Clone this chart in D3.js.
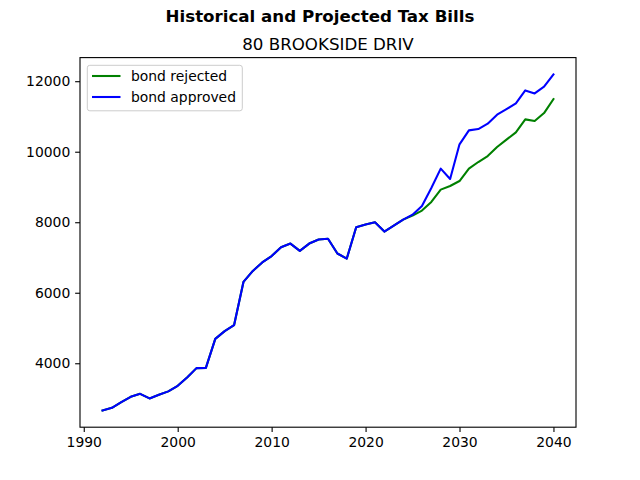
<!DOCTYPE html>
<html>
<head>
<meta charset="utf-8">
<script src="https://cdn.jsdelivr.net/npm/d3@7"></script>
<style>
body { margin: 0; background: #fff; }
svg { display: block; font-family: "DejaVu Sans", sans-serif; }
</style>
</head>
<body>
<svg id="chart" width="640" height="480"></svg>
<script>
const years = d3.range(1992, 2041);
const bondRejected = [
  2663, 2737, 2898, 3048, 3133, 3003, 3105, 3202, 3360, 3598,
  3862, 3870, 4692, 4910, 5080, 6307, 6619, 6860, 7040, 7290,
  7395, 7186, 7395, 7509, 7530, 7112, 6970, 7857, 7934, 7999,
  7735, 7905, 8075, 8189, 8330, 8574, 8925, 9027, 9169, 9520,
  9708, 9878, 10133, 10342, 10549, 10918, 10869, 11096, 11493
];
const bondApproved = [
  2663, 2737, 2898, 3048, 3133, 3003, 3105, 3202, 3360, 3598,
  3862, 3870, 4692, 4910, 5080, 6307, 6619, 6860, 7040, 7290,
  7395, 7186, 7395, 7509, 7530, 7112, 6970, 7857, 7934, 7999,
  7735, 7905, 8075, 8215, 8461, 8971, 9520, 9226, 10209, 10606,
  10643, 10796, 11051, 11209, 11371, 11739, 11654, 11844, 12193
];
const xTicks = [1990, 2000, 2010, 2020, 2030, 2040];
const yTicks = [4000, 6000, 8000, 10000, 12000];
const seriesNames = ["bond rejected", "bond approved"];
const seriesColors = ["green", "blue"];
const suptitle = "Historical and Projected Tax Bills";
const subtitle = "80 BROOKSIDE DRIV";

const svg = d3.select("#chart");
const L = 80, R = 576, T = 57.6, B = 427.2;

function pad(ext) { const r = ext[1] - ext[0]; return [ext[0] - 0.05 * r, ext[1] + 0.05 * r]; }
const x = d3.scaleLinear().domain(pad(d3.extent(years))).range([L, R]);
const allVals = bondRejected.concat(bondApproved);
const y = d3.scaleLinear().domain(pad(d3.extent(allVals))).range([B, T]);

const series = [bondRejected, bondApproved];
const line = d3.line().x(d => x(d[0])).y(d => y(d[1]));
series.forEach((vals, i) => {
  svg.append("path")
    .datum(years.map((yr, j) => [yr, vals[j]]))
    .attr("d", line)
    .attr("fill", "none")
    .attr("stroke", seriesColors[i])
    .attr("stroke-width", 2.08)
    .attr("stroke-linejoin", "round")
    .attr("stroke-linecap", "square");
});

// frame
svg.append("rect").attr("x", L).attr("y", T).attr("width", R - L).attr("height", B - T)
  .attr("fill", "none").attr("stroke", "#000").attr("stroke-width", 1.11);

const xAxis = d3.axisBottom(x).tickValues(xTicks).tickFormat(d3.format("d")).tickSize(4.86).tickPadding(4.86);
const gx = svg.append("g").attr("transform", `translate(0,${B})`).call(xAxis);
const yAxis = d3.axisLeft(y).tickValues(yTicks).tickFormat(d3.format("d")).tickSize(4.86).tickPadding(4.86);
const gy = svg.append("g").attr("transform", `translate(${L},0)`).call(yAxis);
[gx, gy].forEach(g => {
  g.select(".domain").remove();
  g.selectAll("line").attr("stroke", "#000").attr("stroke-width", 1.11);
  g.selectAll("text").attr("font-size", "13.9px").attr("fill", "#000").attr("font-family", "DejaVu Sans");
});

svg.append("text").attr("x", 320).attr("y", 22).attr("text-anchor", "middle")
  .attr("font-size", "16.67px").attr("font-weight", "bold").text(suptitle);
svg.append("text").attr("x", (L + R) / 2).attr("y", 49.5).attr("text-anchor", "middle")
  .attr("font-size", "16.67px").text(subtitle);

// legend
const lg = svg.append("g");
lg.append("rect").attr("x", 87.3).attr("y", 65.3).attr("width", 155).attr("height", 45.5)
  .attr("rx", 2.5).attr("fill", "#fff").attr("fill-opacity", 0.8).attr("stroke", "#ccc").attr("stroke-width", 1);
seriesNames.forEach((name, i) => {
  const cy = 76 + i * 21;
  lg.append("line").attr("x1", 92).attr("x2", 120.5).attr("y1", cy).attr("y2", cy)
    .attr("stroke", seriesColors[i]).attr("stroke-width", 2.08);
  lg.append("text").attr("x", 131).attr("y", cy + 5).attr("font-size", "13.9px").text(name);
});
</script>
</body>
</html>
